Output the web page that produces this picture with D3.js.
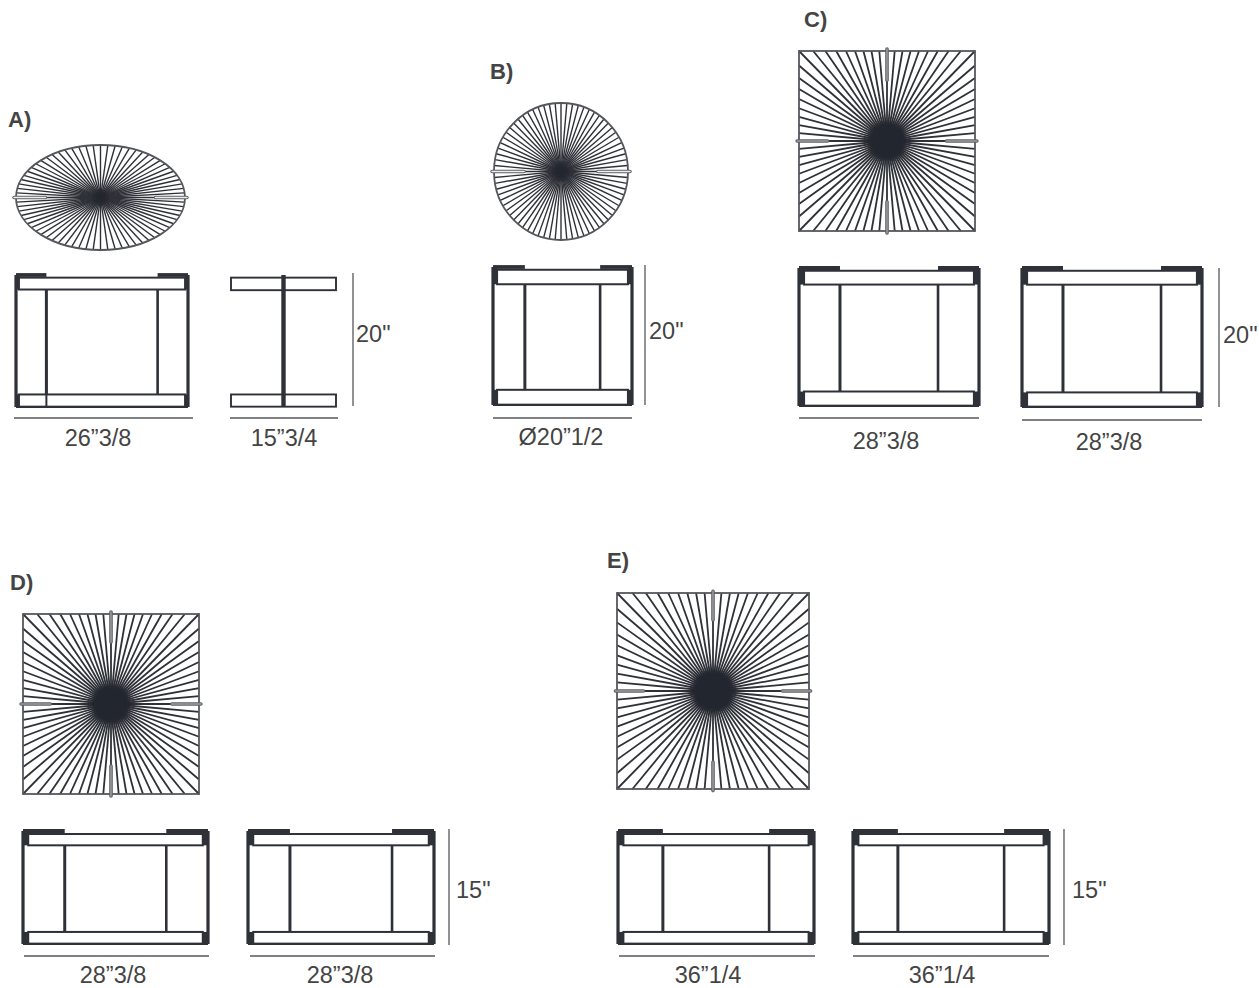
<!DOCTYPE html>
<html>
<head>
<meta charset="utf-8">
<script src="https://cdn.jsdelivr.net/npm/d3@7"></script>
<style>
  html, body { margin: 0; background: #fff; }
  svg { display: block; }
  text { font-family: "Liberation Sans", Arial, sans-serif; fill: #444; }
</style>
</head>
<body>
<div id="chart"></div>
<script>
// Table data, in inches
var labels = ['A)', 'B)', 'C)', 'D)', 'E)'];
var topShapes = ['ellipse', 'circle', 'square', 'square', 'square'];
var widths = [26.375, 20.5, 28.375, 28.375, 36.25];
var depths = [15.75, 20.5, 28.375, 28.375, 36.25];
var heights = [20, 20, 20, 15, 15];
var widthTexts = ['26”3/8', 'Ø20”1/2', '28”3/8', '28”3/8', '36”1/4'];
var depthTexts = ['15”3/4', null, '28”3/8', '28”3/8', '36”1/4'];
var heightTexts = ['20"', '20"', '20"', '15"', '15"'];
var spokeCounts = [72, 72, 72, 72, 72];
var legInsets = [4.66, 4.7, 6.46, 6.4, 8.3];
var bandThick = [1.9, 2.2, 2.1, 1.6, 1.6];
var bandInsets = [0.45, 0.6, 0.8, 0.8, 1.0];
var hubRadii = [1.1, 1.2, 3.2, 3.2, 4.1];
var handleLengths = [4.6, 4.6, 4.6, 4.4, 5.0];

// Page layout: [left, right, top, bottom] in pixels
var labelPos = [[8, 127], [490, 79], [804, 27], [10, 590], [607, 568]];
var topBoxes = [[16, 185, 145, 250], [494, 628, 103, 240], [799, 975, 51, 231], [23, 199, 614, 794], [617, 809, 593, 789]];
var frontBoxes = [[16, 188, 275, 407], [493, 632, 267, 405], [799, 979, 268, 406], [23, 208, 831, 944], [618, 814, 831, 944]];
var sideBoxes = [[231, 336, 275, 407], null, [1022, 1202, 268, 407], [248, 434, 831, 944], [853, 1049, 831, 944]];
// [left, right, line y, text x, text y]
var widthDims = [[14, 193, 418, 98, 446], [493, 632, 418, 561, 445], [799, 979, 418, 886, 449], [24, 209, 956, 113, 983], [619, 815, 956, 708, 983]];
var depthDims = [[230, 338, 418, 284, 446], null, [1022, 1202, 420, 1109, 450], [250, 435, 956, 340, 983], [853, 1049, 956, 942, 983]];
// [line x, top, bottom, text x, text y]
var heightDims = [[353, 273, 406, 356, 342], [645, 265, 405, 649, 339], [1219, 268, 407, 1223, 343], [449, 829, 945, 456, 898], [1064, 829, 945, 1072, 898]];

var ink = '#2f3138';

var svg = d3.select('#chart').append('svg')
  .attr('width', 1259)
  .attr('height', 988);

// slight softening, the drawings are scanned
var defs = svg.append('defs');
defs.append('filter').attr('id', 'soft')
  .append('feGaussianBlur').attr('stdDeviation', 0.45);
defs.append('filter').attr('id', 'hubBlur')
  .append('feGaussianBlur').attr('stdDeviation', 2);

var drawing = svg.append('g').attr('filter', 'url(#soft)');

// where a ray at angle t leaves the table top (inches from centre)
var rimPoint = function(shape, w, d, t) {
  if (shape !== 'square') return [w/2*Math.cos(t), d/2*Math.sin(t)];
  var k = Math.min(w/2/Math.abs(Math.cos(t) || 1e-6), d/2/Math.abs(Math.sin(t) || 1e-6));
  return [k*Math.cos(t), k*Math.sin(t)];
};

var drawTop = function(i) {
  var box = topBoxes[i], w = widths[i], d = depths[i], shape = topShapes[i];
  var x = d3.scaleLinear().domain([-w/2, w/2]).range([box[0], box[1]]);
  var y = d3.scaleLinear().domain([-d/2, d/2]).range([box[2], box[3]]);
  var g = drawing.append('g');

  g.selectAll('line.spoke')
    .data(d3.range(spokeCounts[i]))
    .enter().append('line')
    .attr('class', 'spoke')
    .attr('x1', x(0))
    .attr('y1', y(0))
    .attr('x2', function(n) { return x(rimPoint(shape, w, d, n/spokeCounts[i]*2*Math.PI)[0]); })
    .attr('y2', function(n) { return y(rimPoint(shape, w, d, n/spokeCounts[i]*2*Math.PI)[1]); })
    .attr('stroke', ink)
    .attr('stroke-width', shape === 'square' ? 1.8 : 1.4);

  // rim
  if (shape === 'square') {
    g.append('rect')
      .attr('x', box[0]).attr('y', box[2])
      .attr('width', box[1]-box[0]).attr('height', box[3]-box[2])
      .attr('fill', 'none').attr('stroke', '#55575c').attr('stroke-width', 1.8);
  } else {
    g.append('ellipse')
      .attr('cx', x(0)).attr('cy', y(0))
      .attr('rx', (box[1]-box[0])/2).attr('ry', (box[3]-box[2])/2)
      .attr('fill', 'none').attr('stroke', '#55575c').attr('stroke-width', 1.8);
  }

  // dark hub
  g.append('circle')
    .attr('cx', x(0)).attr('cy', y(0))
    .attr('r', x(hubRadii[i]) - x(0))
    .attr('fill', '#23262d')
    .attr('filter', 'url(#hubBlur)');

  // handles stick out a little past the rim
  var len = handleLengths[i], over = 0.3;
  var handles = [[-w/2-over, 0, -w/2+len, 0], [w/2-len, 0, w/2+over, 0]];
  if (shape === 'square') {
    handles.push([0, -d/2-over, 0, -d/2+len]);
    handles.push([0, d/2-len, 0, d/2+over]);
  }
  g.selectAll('line.handle-out')
    .data(handles)
    .enter().append('line')
    .attr('class', 'handle-out')
    .attr('x1', function(h) { return x(h[0]); })
    .attr('y1', function(h) { return y(h[1]); })
    .attr('x2', function(h) { return x(h[2]); })
    .attr('y2', function(h) { return y(h[3]); })
    .attr('stroke', '#5f6065')
    .attr('stroke-width', 3.6)
    .attr('stroke-linecap', 'round');
  g.selectAll('line.handle-in')
    .data(handles)
    .enter().append('line')
    .attr('class', 'handle-in')
    .attr('x1', function(h) { return x(h[0]); })
    .attr('y1', function(h) { return y(h[1]); })
    .attr('x2', function(h) { return x(h[2]); })
    .attr('y2', function(h) { return y(h[3]); })
    .attr('stroke', shape === 'square' ? '#9a9a9d' : '#ececec')
    .attr('stroke-width', 1.6)
    .attr('stroke-linecap', 'round');
};

// elevation with two bands, two legs and dark corner caps
var drawFront = function(box, w, h, inset, band, edge) {
  var x = d3.scaleLinear().domain([0, w]).range([box[0], box[1]]);
  var y = d3.scaleLinear().domain([h, 0]).range([box[2], box[3]]);
  var g = drawing.append('g').attr('fill', 'none').attr('stroke', ink);

  var add = function(x1, y1, x2, y2, sw) {
    g.append('line')
      .attr('x1', x(x1)).attr('y1', y(y1))
      .attr('x2', x(x2)).attr('y2', y(y2))
      .attr('stroke-width', sw);
  };

  add(0, 0, 0, h, 3.2);
  add(w, 0, w, h, 3.2);
  add(inset, band, inset, h-band, 3);
  add(w-inset, band, w-inset, h-band, 2.6);
  add(0, h, inset, h, 3.8);
  add(w-inset, h, w, h, 3.8);
  add(0, 0, w, 0, 2.2);

  // dark blocks at the band ends
  [[0, band], [h-band-0.3, h]].forEach(function(b) {
    g.append('rect')
      .attr('x', x(0)).attr('y', y(b[1]))
      .attr('width', x(edge)-x(0)).attr('height', y(b[0])-y(b[1]))
      .attr('fill', ink).attr('stroke', 'none');
    g.append('rect')
      .attr('x', x(w-edge)).attr('y', y(b[1]))
      .attr('width', x(edge)-x(0)).attr('height', y(b[0])-y(b[1]))
      .attr('fill', ink).attr('stroke', 'none');
  });

  // the rect's own top edge carries the thin line between the caps
  [[h-band-0.3, h-0.4], [0.05, band]].forEach(function(b) {
    g.append('rect')
      .attr('x', x(edge)).attr('y', y(b[1]))
      .attr('width', x(w-edge)-x(edge)).attr('height', y(b[0])-y(b[1]))
      .attr('fill', '#fff')
      .attr('stroke-width', 2);
  });
  return add;
};

// the side view of A is an I: two bands and a central post
var drawSideI = function(box, d, h, band) {
  var x = d3.scaleLinear().domain([0, d]).range([box[0], box[1]]);
  var y = d3.scaleLinear().domain([h, 0]).range([box[2], box[3]]);
  var g = drawing.append('g').attr('fill', '#fff').attr('stroke', ink);
  [[0.05, band], [h-band-0.4, h-0.4]].forEach(function(b) {
    g.append('rect')
      .attr('x', x(0)).attr('y', y(b[1]))
      .attr('width', x(d)-x(0)).attr('height', y(b[0])-y(b[1]))
      .attr('stroke-width', 1.9);
  });
  g.append('line')
    .attr('x1', x(d/2)).attr('y1', y(h))
    .attr('x2', x(d/2)).attr('y2', y(0))
    .attr('stroke-width', 4.4);
};

var drawDimH = function(dim, txt) {
  drawing.append('line')
    .attr('x1', dim[0]).attr('y1', dim[2])
    .attr('x2', dim[1]).attr('y2', dim[2])
    .attr('stroke', '#55575c').attr('stroke-width', 1.3);
  svg.append('text')
    .attr('x', dim[3]).attr('y', dim[4])
    .attr('text-anchor', 'middle')
    .attr('font-size', 23.5)
    .text(txt);
};

labels.forEach(function(label, i) {
  svg.append('text')
    .attr('x', labelPos[i][0]).attr('y', labelPos[i][1])
    .attr('font-size', 22)
    .attr('font-weight', 'bold')
    .text(label);

  drawTop(i);
  var addLine = drawFront(frontBoxes[i], widths[i], heights[i], legInsets[i], bandThick[i], bandInsets[i]);
  if (i === 0) {
    // left leg of A runs on through the lower band
    addLine(legInsets[i], 7, legInsets[i], 0, 2);
    drawSideI(sideBoxes[i], depths[i], heights[i], bandThick[i]);
  } else if (sideBoxes[i]) {
    drawFront(sideBoxes[i], depths[i], heights[i], legInsets[i], bandThick[i], bandInsets[i]);
  }

  drawDimH(widthDims[i], widthTexts[i]);
  if (depthDims[i]) drawDimH(depthDims[i], depthTexts[i]);

  var hd = heightDims[i];
  drawing.append('line')
    .attr('x1', hd[0]).attr('y1', hd[1])
    .attr('x2', hd[0]).attr('y2', hd[2])
    .attr('stroke', '#55575c').attr('stroke-width', 1.3);
  svg.append('text')
    .attr('x', hd[3]).attr('y', hd[4])
    .attr('font-size', 23.5)
    .text(heightTexts[i]);
});
</script>
</body>
</html>
